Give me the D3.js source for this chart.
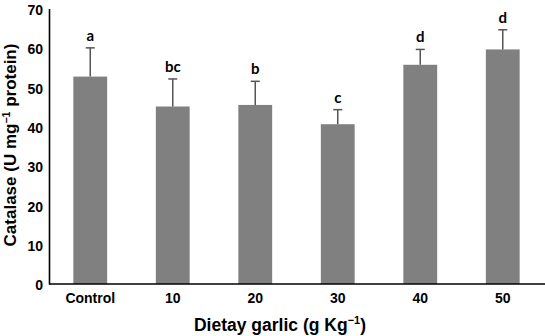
<!DOCTYPE html>
<html><head><meta charset="utf-8">
<script src="https://cdn.jsdelivr.net/npm/d3@7"></script>
<style>body{margin:0;background:#fff}svg{display:block}</style>
</head><body>
<script>
const categories = ["Control","10","20","30","40","50"];
const means = [52.7, 45.1, 45.5, 40.6, 55.7, 59.6];
const errors = [7.3, 7.0, 6.0, 3.7, 3.9, 5.0];
const letters = ["a","bc","b","c","d","d"];
const yTicks = [0,10,20,30,40,50,60,70];

const W = 545, H = 336;
const svg = d3.select("body").append("svg").attr("width", W).attr("height", H);
const x = d3.scaleBand().domain(categories).range([49, 544]).paddingInner(0.59).paddingOuter(0.295);
const y = d3.scaleLinear().domain([0, 70]).range([284, 8.5]);

// bars
svg.selectAll("rect.bar").data(categories).enter().append("rect")
  .attr("x", d => x(d)).attr("width", x.bandwidth())
  .attr("y", (d,i) => y(means[i])).attr("height", (d,i) => y(0) - y(means[i]))
  .attr("fill", "#808080");

// error bars
const eg = svg.append("g").attr("stroke", "#555").attr("stroke-width", 1.5);
categories.forEach((c,i) => {
  const cx = x(c) + x.bandwidth()/2;
  eg.append("line").attr("x1", cx).attr("x2", cx).attr("y1", y(means[i])).attr("y2", y(means[i]+errors[i]));
  eg.append("line").attr("x1", cx-4.5).attr("x2", cx+4.5).attr("y1", y(means[i]+errors[i])).attr("y2", y(means[i]+errors[i]));
});

// letters
svg.selectAll("text.let").data(categories).enter().append("text")
  .attr("x", d => x(d) + x.bandwidth()/2)
  .attr("y", (d,i) => y(means[i]+errors[i]) - 7)
  .attr("text-anchor", "middle")
  .attr("font-family", "Lato, 'Open Sans', sans-serif").attr("font-weight", "bold").attr("font-size", 15)
  .text((d,i) => letters[i]);

// axes
const yAxis = svg.append("g").attr("transform", "translate(49,0)")
  .call(d3.axisLeft(y).tickValues(yTicks).tickSize(0).tickPadding(6));
yAxis.select(".domain").attr("stroke", "#000").attr("stroke-width", 1.6);
yAxis.selectAll("text").attr("font-family", "'Liberation Sans', Arial, sans-serif")
  .attr("font-weight", "bold").attr("font-size", 14).attr("fill", "#000").attr("dy", "0.42em");

const xAxis = svg.append("g").attr("transform", "translate(0,284)")
  .call(d3.axisBottom(x).tickSize(0).tickPadding(9));
xAxis.select(".domain").attr("stroke", "#000").attr("stroke-width", 1.6)
  .attr("d", "M49,0H545");
xAxis.selectAll("text").attr("font-family", "'Liberation Sans', Arial, sans-serif")
  .attr("font-weight", "bold").attr("font-size", 14).attr("fill", "#000");

// titles
const xt = svg.append("text").attr("x", 280).attr("y", 331).attr("text-anchor", "middle")
  .attr("font-family", "'Liberation Sans', Arial, sans-serif").attr("font-weight", "bold").attr("font-size", 17.5);
xt.append("tspan").text("Dietay garlic (g Kg");
xt.append("tspan").attr("font-size", 11).attr("dy", -7).text("−1");
xt.append("tspan").attr("dy", 7).text(")");

const yt = svg.append("text").attr("transform", "translate(16,145) rotate(-90)").attr("text-anchor", "middle")
  .attr("font-family", "'Liberation Sans', Arial, sans-serif").attr("font-weight", "bold").attr("font-size", 17);
yt.append("tspan").text("Catalase (U mg");
yt.append("tspan").attr("font-size", 10.5).attr("dy", -6.5).text("−1");
yt.append("tspan").attr("dy", 6.5).text(" protein)");
</script>
</body></html>
